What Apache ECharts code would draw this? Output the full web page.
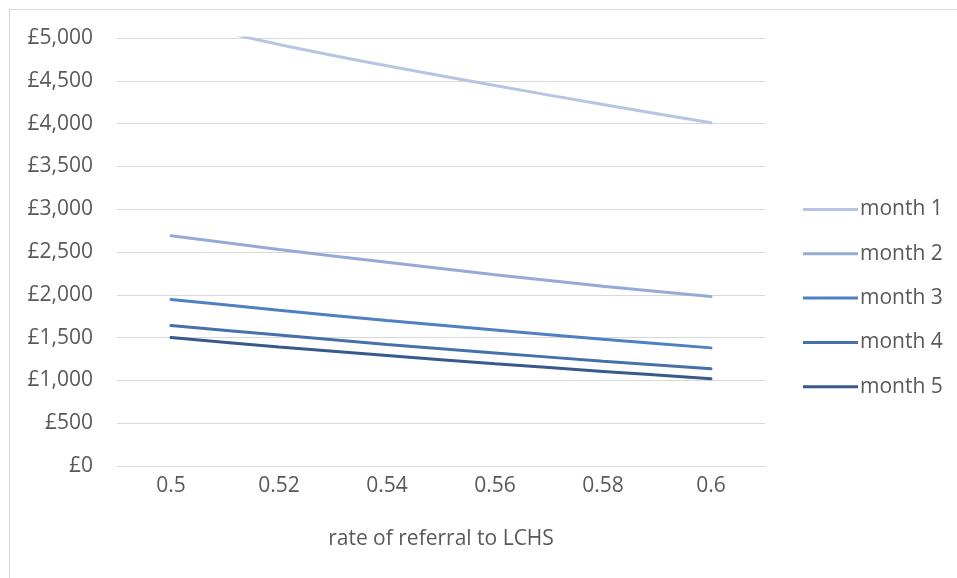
<!DOCTYPE html>
<html>
<head>
<meta charset="utf-8">
<script src="https://cdn.jsdelivr.net/npm/echarts@6/dist/echarts.min.js"></script>
<style>
  html, body { margin: 0; padding: 0; background: #fff; overflow: hidden; }
  #frame {
    position: absolute; left: 9px; top: 9px; width: 980px; height: 600px;
    border: 1px solid #d9d9d9; box-sizing: border-box;
  }
  #chart { position: absolute; left: 0; top: 0; width: 957px; height: 578px; }
</style>
</head>
<body>
<div id="frame"></div>
<div id="chart"></div>
<script>
// referral rate categories
const rates = ['0.5', '0.52', '0.54', '0.56', '0.58', '0.6'];
const yTicks = [0, 500, 1000, 1500, 2000, 2500, 3000, 3500, 4000, 4500, 5000];

// cost per month at each rate
const month1 = [5210, 4925, 4675, 4445, 4222, 4010];
const month2 = [2690, 2530, 2380, 2235, 2100, 1980];
const month3 = [1945, 1820, 1700, 1590, 1480, 1380];
const month4 = [1640, 1530, 1420, 1320, 1225, 1135];
const month5 = [1500, 1390, 1290, 1195, 1105, 1020];

const names = ['month 1', 'month 2', 'month 3', 'month 4', 'month 5'];
const colors = ['#b7c5e3', '#95abd6', '#4e80c2', '#4570aa', '#37598b'];
const allData = [month1, month2, month3, month4, month5];

const chart = echarts.init(document.getElementById('chart'));
const font = '"Open Sans", sans-serif';

const option = {
  animation: false,
  color: colors,
  grid: { left: 117, right: 192, top: 38, bottom: 112 },
  legend: {
    orient: 'vertical',
    left: 803,
    top: 199,
    padding: 0,
    itemWidth: 55,
    itemHeight: 10,
    itemGap: 23.3,
    icon: 'path://M0,3.5 L55,3.5 L55,6.5 L0,6.5 Z',
    textStyle: { fontFamily: font, fontSize: 21, lineHeight: 21, color: '#595959', padding: [0, 0, 0, -3] },
    data: names
  },
  xAxis: {
    type: 'category',
    data: rates,
    boundaryGap: true,
    name: 'rate of referral to LCHS',
    nameLocation: 'middle',
    nameGap: 63,
    nameTextStyle: { fontFamily: font, fontSize: 21, lineHeight: 21, color: '#595959' },
    axisLine: { lineStyle: { color: '#d9d9d9', width: 1 } },
    axisTick: { show: false },
    axisLabel: { fontFamily: font, fontSize: 21, lineHeight: 21, color: '#595959', margin: 10 }
  },
  yAxis: {
    type: 'value',
    min: yTicks[0],
    max: yTicks[yTicks.length - 1],
    interval: 500,
    axisLine: { show: false },
    axisTick: { show: false },
    splitLine: { lineStyle: { color: '#d9d9d9', width: 1 } },
    axisLabel: {
      fontFamily: font, fontSize: 21, color: '#595959', margin: 24,
      formatter: v => '£' + v.toLocaleString('en-GB')
    }
  },
  series: allData.map((d, i) => ({
    name: names[i],
    type: 'line',
    data: d,
    smooth: 0.3,
    symbol: 'none',
    clip: true,
    lineStyle: { width: 3, color: colors[i], cap: 'round' }
  }))
};

chart.setOption(option);
</script>
</body>
</html>
